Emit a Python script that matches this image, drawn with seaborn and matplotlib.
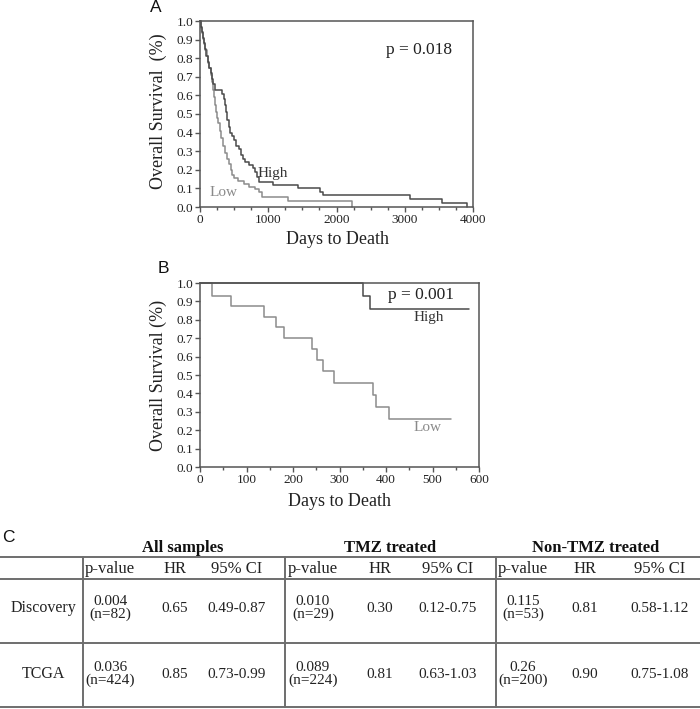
import matplotlib
matplotlib.use("Agg")
import matplotlib.pyplot as plt
from matplotlib.ticker import MultipleLocator, FormatStrFormatter
from matplotlib.lines import Line2D
import seaborn as sns

# ---------------- data ----------------
# Panel A (Kaplan-Meier, days vs survival)
a_high_days = [0, 12, 28, 42, 58, 78, 95, 115, 135, 155, 172, 190, 215, 320, 345, 365, 385, 400,
               420, 445, 470, 500, 530, 570, 600, 630, 660, 720, 770, 810, 840, 870, 1075, 1440,
               1760, 1800, 3070, 3540, 3917]
a_high_surv = [1.0, 0.97, 0.94, 0.91, 0.88, 0.85, 0.81, 0.78, 0.75, 0.72, 0.69, 0.66, 0.63, 0.61,
               0.58, 0.55, 0.51, 0.47, 0.43, 0.40, 0.38, 0.36, 0.33, 0.31, 0.28, 0.26, 0.24, 0.225,
               0.21, 0.19, 0.16, 0.135, 0.12, 0.10, 0.08, 0.065, 0.042, 0.02, 0.0]
a_low_days = [0, 14, 29, 44, 60, 79, 98, 118, 138, 158, 178, 195, 210, 225, 240, 255, 270, 290,
              310, 335, 360, 390, 420, 450, 475, 500, 560, 640, 720, 800, 860, 905, 1295, 2222]
a_low_surv = [1.0, 0.965, 0.935, 0.905, 0.875, 0.845, 0.81, 0.775, 0.745, 0.71, 0.67, 0.63, 0.59, 0.55,
              0.51, 0.48, 0.45, 0.41, 0.37, 0.33, 0.29, 0.26, 0.23, 0.20, 0.17, 0.155, 0.14, 0.125,
              0.11, 0.095, 0.08, 0.055, 0.034, 0.0]
a_pvalue = "p = 0.018"

# Panel B
b_high_days = [0, 350, 365, 578]
b_high_surv = [1.0, 0.93, 0.86, 0.86]
b_low_days = [0, 25, 67, 137, 163, 181, 241, 252, 264, 288, 373, 378, 407, 540]
b_low_surv = [1.0, 0.93, 0.875, 0.815, 0.76, 0.70, 0.64, 0.58, 0.52, 0.455, 0.39, 0.325, 0.26, 0.26]
b_pvalue = "p = 0.001"

# Panel C table
table_groups = ["All samples", "TMZ treated", "Non-TMZ treated"]
table_cols = ["p-value", "HR", "95% CI"]
row_names = ["Discovery", "TCGA"]
pvals = [["0.004\n(n=82)", "0.010\n(n=29)", "0.115\n(n=53)"],
         ["0.036\n(n=424)", "0.089\n(n=224)", "0.26\n(n=200)"]]
hrs = [["0.65", "0.30", "0.81"],
       ["0.85", "0.81", "0.90"]]
cis = [["0.49-0.87", "0.12-0.75", "0.58-1.12"],
       ["0.73-0.99", "0.63-1.03", "0.75-1.08"]]

# ---------------- style ----------------
sns.set_style("ticks")
plt.rcParams["font.family"] = ["Liberation Serif", "DejaVu Serif"]

W, H = 700, 709
fig = plt.figure(figsize=(W / 100, H / 100), dpi=100)


def fx(x):
    return x / W


def fy(y):
    return 1 - y / H


HIGH_C = "#4a4a4a"
LOW_C = "#8c8c8c"
SPINE_C = "#555555"
TXT_C = "#222222"


def style_axes(ax, xmax, xmajor, xminor):
    ax.set_xlim(0, xmax)
    ax.set_ylim(0, 1.0)
    ax.xaxis.set_major_locator(MultipleLocator(xmajor))
    ax.xaxis.set_minor_locator(MultipleLocator(xminor))
    ax.yaxis.set_major_locator(MultipleLocator(0.1))
    ax.yaxis.set_major_formatter(FormatStrFormatter("%.1f"))
    for s in ax.spines.values():
        s.set_visible(True)
        s.set_color(SPINE_C)
        s.set_linewidth(1.1)
    ax.tick_params(axis="both", which="major", direction="out", length=3.5, width=1.0,
                   color=SPINE_C, labelsize=9.5, labelcolor=TXT_C, pad=1.5)
    ax.tick_params(axis="x", which="minor", direction="out", length=2.5, width=1.0, color=SPINE_C)
    ax.set_xlabel("")
    ax.set_ylabel("")
    for lab in ax.get_xticklabels() + ax.get_yticklabels():
        lab.set_family(["Liberation Serif"])


# ---------------- Panel A ----------------
axA = fig.add_axes([fx(200), fy(207), fx(473) - fx(200), fy(21) - fy(207)])
sns.lineplot(x=a_low_days, y=a_low_surv, drawstyle="steps-post", estimator=None, sort=False,
             color=LOW_C, lw=1.1, ax=axA, clip_on=False)
sns.lineplot(x=a_high_days, y=a_high_surv, drawstyle="steps-post", estimator=None, sort=False,
             color=HIGH_C, lw=1.1, ax=axA, clip_on=False)
style_axes(axA, 4000, 1000, 250)
fig.text(fx(158), fy(111), "Overall Survival  (%)", rotation=90, ha="center", va="center",
         fontsize=13, color=TXT_C)
fig.text(fx(337), fy(240), "Days to Death", ha="center", va="center", fontsize=13, color=TXT_C)
fig.text(fx(419), fy(50), a_pvalue, ha="center", va="center", fontsize=12.5, color=TXT_C)
fig.text(fx(273), fy(173), "High", ha="center", va="center", fontsize=11, color="#333333")
fig.text(fx(224), fy(192), "Low", ha="center", va="center", fontsize=11, color="#8a8a8a")
fig.text(fx(156), fy(8), "A", ha="center", va="center", fontsize=12.5,
         family=["Liberation Sans"], color="#111111")

# ---------------- Panel B ----------------
axB = fig.add_axes([fx(200), fy(467), fx(479) - fx(200), fy(283) - fy(467)])
sns.lineplot(x=b_low_days, y=b_low_surv, drawstyle="steps-post", estimator=None, sort=False,
             color=LOW_C, lw=1.1, ax=axB, clip_on=False)
sns.lineplot(x=b_high_days, y=b_high_surv, drawstyle="steps-post", estimator=None, sort=False,
             color=HIGH_C, lw=1.1, ax=axB, clip_on=False)
style_axes(axB, 600, 100, 50)
fig.text(fx(158), fy(375), "Overall Survival (%)", rotation=90, ha="center", va="center",
         fontsize=13, color=TXT_C)
fig.text(fx(340), fy(501), "Days to Death", ha="center", va="center", fontsize=13, color=TXT_C)
fig.text(fx(421), fy(295), b_pvalue, ha="center", va="center", fontsize=12.5, color=TXT_C)
fig.text(fx(429), fy(318), "High", ha="center", va="center", fontsize=11, color="#333333")
fig.text(fx(428), fy(428), "Low", ha="center", va="center", fontsize=11, color="#8a8a8a")
fig.text(fx(163), fy(268), "B", ha="center", va="center", fontsize=12.5,
         family=["Liberation Sans"], color="#111111")

# ---------------- Panel C (table) ----------------
fig.text(fx(8), fy(537), "C", ha="center", va="center", fontsize=12.5,
         family=["Liberation Sans"], color="#111111")

LINE_C = "#6e6e6e"
for y in [557, 579, 643, 707]:
    fig.add_artist(Line2D([0, 1], [fy(y), fy(y)], color=LINE_C, lw=1.4))
for x in [83, 285, 496]:
    fig.add_artist(Line2D([fx(x), fx(x)], [fy(557), fy(707)], color=LINE_C, lw=1.4))

group_x = [183, 390, 596]
for gx, g in zip(group_x, table_groups):
    fig.text(fx(gx), fy(548), g, ha="center", va="center", fontsize=12, fontweight="bold",
             color="#111111")

col_x = [[110, 175, 237], [313, 380, 448], [523, 585, 660]]
for grp in col_x:
    for cx, c in zip(grp, table_cols):
        fig.text(fx(cx), fy(569), c, ha="center", va="center", fontsize=12, color=TXT_C)

row_y = [608, 674]
for r, (ry, rn) in enumerate(zip(row_y, row_names)):
    fig.text(fx(43), fy(ry), rn, ha="center", va="center", fontsize=11.5, color=TXT_C)
    for g in range(3):
        fig.text(fx(col_x[g][0]), fy(ry), pvals[r][g], ha="center", va="center", fontsize=11,
                 linespacing=0.95, color=TXT_C)
        fig.text(fx(col_x[g][1]), fy(ry), hrs[r][g], ha="center", va="center", fontsize=11,
                 color=TXT_C)
        fig.text(fx(col_x[g][2]), fy(ry), cis[r][g], ha="center", va="center", fontsize=11,
                 color=TXT_C)

fig.savefig("out.png", dpi=100)
